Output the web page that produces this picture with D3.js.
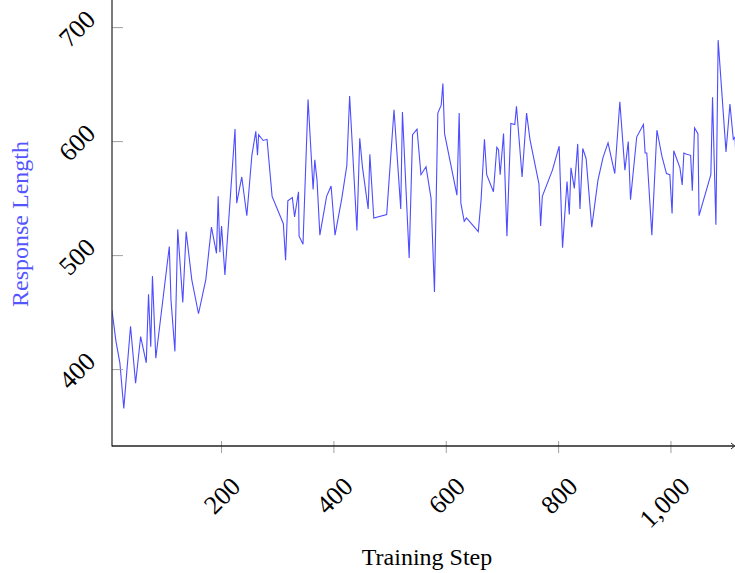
<!DOCTYPE html>
<html>
<head>
<meta charset="utf-8">
<script src="https://cdn.jsdelivr.net/npm/d3@7"></script>
<style>
  html, body { margin: 0; padding: 0; background: #fff; }
  svg { display: block; }
</style>
</head>
<body>
<svg id="chart" width="735" height="573"></svg>
<script>
// ---- data ----
const steps = [5,12,19,26,38,47,56,66,70,74,77,83,107,110,117,122,131,137,147,159,172,182,
  191,194,197,200,206,224,227,236,245,254,261,264,266,274,281,290,310,314,318,326,330,337,338,345,354,363,366,370,375,
  387,395,402,414,423,428,441,446,451,461,464,471,494,507,519,522,534,540,548,555,
  564,573,579,585,591,594,597,619,623,626,632,636,657,662,668,672,684,690,693,696,702,708,715,722,725,735,743,749,
  765,768,771,789,801,807,815,819,822,828,834,838,843,849,859,870,879,888,900,909,918,924,928,
  939,951,954,957,966,975,984,992,998,1002,1005,1016,1020,1023,1028,1035,1038,1042,1048,1050,1071,1074,1080,1084,1098,1105,1111,1114,1118];
const responseLength = [452,425,406,366,438,388,429,406,466,420,482,410,508,461,416,523,459,521,479,449,479,525,
  502,552,503,526,483,611,546,569,535,588,609,588,606,601,602,552,528,496,548,551,534,556,517,510,637,558,584,566,518,
  552,561,518,550,579,640,522,603,577,541,589,533,536,628,541,626,498,606,611,571,
  578,550,468,625,632,651,607,553,625,546,530,533,521,549,602,571,556,595,593,571,607,517,616,615,631,569,625,602,
  563,526,552,575,596,507,565,536,577,559,598,541,594,585,525,566,586,599,572,635,575,600,549,
  604,615,590,590,518,610,587,572,571,537,592,577,562,590,589,588,557,612,607,535,571,639,527,689,591,633,602,604,560];
const xTicks = [200, 400, 600, 800, 1000];
const yTicks = [400, 500, 600, 700];
const xLabel = "Training Step";
const yLabel = "Response Length";

// ---- layout ----
const svg = d3.select("#chart");
const x0 = 112, x1 = 735, yBottom = 446;
const x = d3.scaleLinear().domain([5, 1114]).range([x0, x1]);
const y = d3.scaleLinear().domain([333, 720]).range([yBottom, yBottom - 387 * 1.14]);
const fmt = d3.format(",");
const font = "'Liberation Serif','Times New Roman',serif";

svg.append("defs").append("clipPath").attr("id", "clip")
  .append("rect").attr("x", x0).attr("y", 0).attr("width", x1 - x0).attr("height", yBottom);

// line
const line = d3.line().x((d, i) => x(steps[i])).y(d => y(d));
svg.append("path")
  .datum(responseLength)
  .attr("clip-path", "url(#clip)")
  .attr("fill", "none")
  .attr("stroke", "#4d4dff")
  .attr("stroke-width", 1.1)
  .attr("stroke-linejoin", "miter")
  .attr("d", line);

// y ticks (inside)
svg.append("g").selectAll("line").data(yTicks).join("line")
  .attr("x1", x0).attr("x2", x0 + 11)
  .attr("y1", d => y(d)).attr("y2", d => y(d))
  .attr("stroke", "#a0a0a0").attr("stroke-width", 1);
svg.append("g").selectAll("text").data(yTicks).join("text")
  .attr("transform", d => `translate(97,${y(d) - 6.5}) rotate(-45)`)
  .attr("text-anchor", "end")
  .attr("font-family", font).attr("font-size", 26).attr("fill", "#000")
  .text(d => fmt(d));

// x ticks
svg.append("g").selectAll("line").data(xTicks).join("line")
  .attr("x1", d => x(d)).attr("x2", d => x(d))
  .attr("y1", yBottom - 5).attr("y2", yBottom + 7)
  .attr("stroke", "#a0a0a0").attr("stroke-width", 1);
svg.append("g").selectAll("text").data(xTicks).join("text")
  .attr("transform", d => `translate(${x(d) + 20.5},488) rotate(-45)`)
  .attr("text-anchor", "end")
  .attr("font-family", font).attr("font-size", 26).attr("fill", "#000")
  .text(d => fmt(d));

// axis lines
svg.append("line").attr("x1", x0).attr("x2", x0).attr("y1", yBottom + 0.5).attr("y2", -5)
  .attr("stroke", "#333").attr("stroke-width", 1.3);
svg.append("line").attr("x1", x0).attr("x2", x1 - 1).attr("y1", yBottom).attr("y2", yBottom)
  .attr("stroke", "#222").attr("stroke-width", 1.3);
svg.append("path")
  .attr("d", `M${x1 - 4},${yBottom - 3} Q${x1 - 1.5},${yBottom - 0.8} ${x1},${yBottom} Q${x1 - 1.5},${yBottom + 0.8} ${x1 - 4},${yBottom + 3}`)
  .attr("fill", "none").attr("stroke", "#222").attr("stroke-width", 1);

// axis labels
svg.append("text")
  .attr("x", 427).attr("y", 565)
  .attr("text-anchor", "middle")
  .attr("font-family", font).attr("font-size", 24).attr("fill", "#000")
  .text(xLabel);
svg.append("text")
  .attr("transform", "translate(28,224) rotate(-90)")
  .attr("text-anchor", "middle")
  .attr("font-family", font).attr("font-size", 24).attr("fill", "#5555ff")
  .text(yLabel);
</script>
</body>
</html>
